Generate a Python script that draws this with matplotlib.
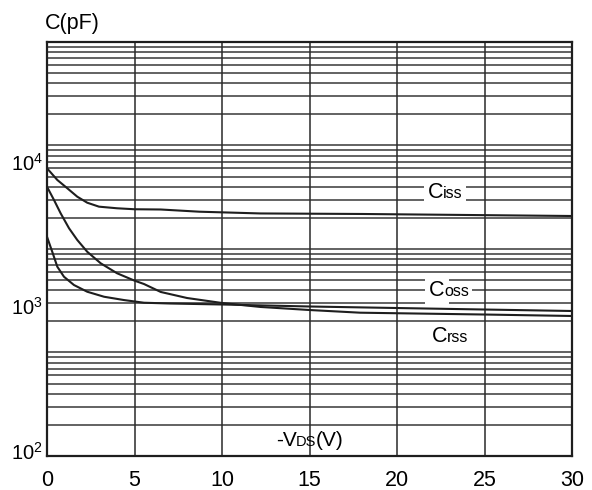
#!/usr/bin/env python3
"""
Wykres pojemności tranzystora C(pF) w funkcji -VDS(V).
Odtworzenie rysunku z karty katalogowej, zapis do out.png.
"""

import matplotlib
matplotlib.use("Agg")
import matplotlib.pyplot as plt
from matplotlib import transforms
from matplotlib.ticker import LogLocator, LogFormatterMathtext, NullLocator, NullFormatter

# --- dane ---
vds_ciss = [0, 0.59, 1.16, 1.73, 2.3, 2.97, 4.0, 5.0, 6.5, 8.7, 12.2, 18, 24, 30]
ciss = [9800, 8130, 7125, 6230, 5660, 5315, 5180, 5100, 5080, 4905, 4770, 4730, 4655, 4580]

vds_coss = [0, 0.4, 0.78, 1.26, 1.73, 2.3, 3.07, 4.0, 5.0, 5.54, 6.5, 8, 10, 12.2, 15, 17.9, 25, 30]
coss = [7300, 5910, 4780, 3765, 3125, 2590, 2155, 1840, 1635, 1550, 1365, 1240, 1145, 1075,
        1024, 981, 953, 931]

vds_crss = [0, 0.3, 0.59, 0.97, 1.54, 2.3, 3.26, 4.4, 5.54, 7, 10, 15, 20, 25, 30]
crss = [3290, 2590, 2040, 1740, 1525, 1370, 1265, 1200, 1150, 1136, 1118, 1083, 1057, 1032, 1008]

x_ticks = [0, 5, 10, 15, 20, 25, 30]
y_ticks = [1e2, 1e3, 1e4]

# podpisy krzywych: (x, y linii bazowej, [(tekst, rozmiar), ...])
podpisy = [
    (22.75, 6100, [("C", 15.5), ("iss", 11.5)]),
    (22.95, 1285, [("C", 15.5), ("oss", 11.5)]),
    (23.0, 615, [("C", 15.5), ("rss", 11.5)]),
]
podpis_osi_x = (15.0, 117, [("-V", 15), ("DS", 10.5), ("(V)", 15)])

CIEMNY = "#1e1e1e"


def napisz_z_czesci(ax, x, y, czesci, tlo=True, docisk=0.8):
    """Tekst złożony z kawałków o różnych rozmiarach, na wspólnej linii bazowej."""
    fig = ax.figure
    fig.canvas.draw()
    r = fig.canvas.get_renderer()
    szerokosci = []
    for s, fs in czesci:
        t = ax.text(x, y, s, fontsize=fs)
        szerokosci.append(t.get_window_extent(r).width - docisk)
        t.remove()
    przesuniecie = -sum(szerokosci) / 2
    for (s, fs), w in zip(czesci, szerokosci):
        tr = transforms.offset_copy(ax.transData, fig=fig, x=przesuniecie, y=0, units="dots")
        if tlo:
            # najpierw samo białe tło (niewidoczny tekst), pod wszystkimi kawałkami
            ax.text(x, y, s, fontsize=fs, transform=tr, ha="left", va="baseline",
                    color="none", zorder=4,
                    bbox=dict(boxstyle="square,pad=0.2", fc="white", ec="none"))
        ax.text(x, y, s, fontsize=fs, transform=tr, ha="left", va="baseline",
                color="black", zorder=5)
        przesuniecie += w


def main():
    plt.rcParams["font.family"] = ["Liberation Sans", "DejaVu Sans"]
    plt.rcParams["mathtext.fontset"] = "custom"
    plt.rcParams["mathtext.rm"] = "Liberation Sans"
    plt.rcParams["mathtext.it"] = "Liberation Sans"

    fig = plt.figure(figsize=(5.92, 4.90), dpi=100)
    ax = fig.add_axes([47 / 592, 34 / 490, 525 / 592, 414 / 490])

    # oś pomocnicza tylko dla siatki poziomej (4 dekady jak na oryginale)
    ax_siatka = ax.twinx()
    ax_siatka.set_yscale("log")
    ax_siatka.set_ylim(1e1, 1e5)
    ax_siatka.yaxis.set_minor_locator(LogLocator(base=10, subs=range(2, 10)))
    ax_siatka.yaxis.set_major_formatter(NullFormatter())
    ax_siatka.yaxis.set_minor_formatter(NullFormatter())
    ax_siatka.tick_params(which="both", length=0)
    ax_siatka.grid(True, which="both", axis="y", color="#383838", lw=1.1)
    for sp in ax_siatka.spines.values():
        sp.set_visible(False)

    ax.set_zorder(ax_siatka.get_zorder() + 1)
    ax.patch.set_visible(False)

    # krzywe
    for v, c in [(vds_ciss, ciss), (vds_coss, coss), (vds_crss, crss)]:
        ax.plot(v, c, color=CIEMNY, lw=1.5, zorder=3)

    ax.set_yscale("log")
    ax.set_xlim(0, 30)
    ax.set_ylim(1e2, 10 ** 4.865)
    ax.set_xticks(x_ticks)
    ax.set_xticklabels([str(t) for t in x_ticks])
    ax.set_yticks(y_ticks)
    ax.yaxis.set_major_formatter(LogFormatterMathtext())
    ax.yaxis.set_minor_locator(NullLocator())
    ax.tick_params(axis="x", length=0, pad=10, labelsize=15.5)
    ax.tick_params(axis="y", length=0, pad=3, labelsize=14.5)
    ax.grid(True, axis="x", color="#2a2a2a", lw=1.1)
    ax.grid(False, axis="y")
    for sp in ax.spines.values():
        sp.set_color(CIEMNY)
        sp.set_linewidth(1.6)

    # lekkie podniesienie etykiet osi Y
    for lab in ax.get_yticklabels():
        lab.set_transform(lab.get_transform() +
                          transforms.ScaledTranslation(0, 4 / 72, fig.dpi_scale_trans))

    for x, y, czesci in podpisy:
        napisz_z_czesci(ax, x, y, czesci)
    napisz_z_czesci(ax, *podpis_osi_x, tlo=False)

    fig.text(45 / 592, 1 - 24 / 490, "C(pF)", fontsize=15.5, va="center", ha="left")

    fig.savefig("out.png", dpi=100, facecolor="white")
    plt.close(fig)


if __name__ == "__main__":
    main()
